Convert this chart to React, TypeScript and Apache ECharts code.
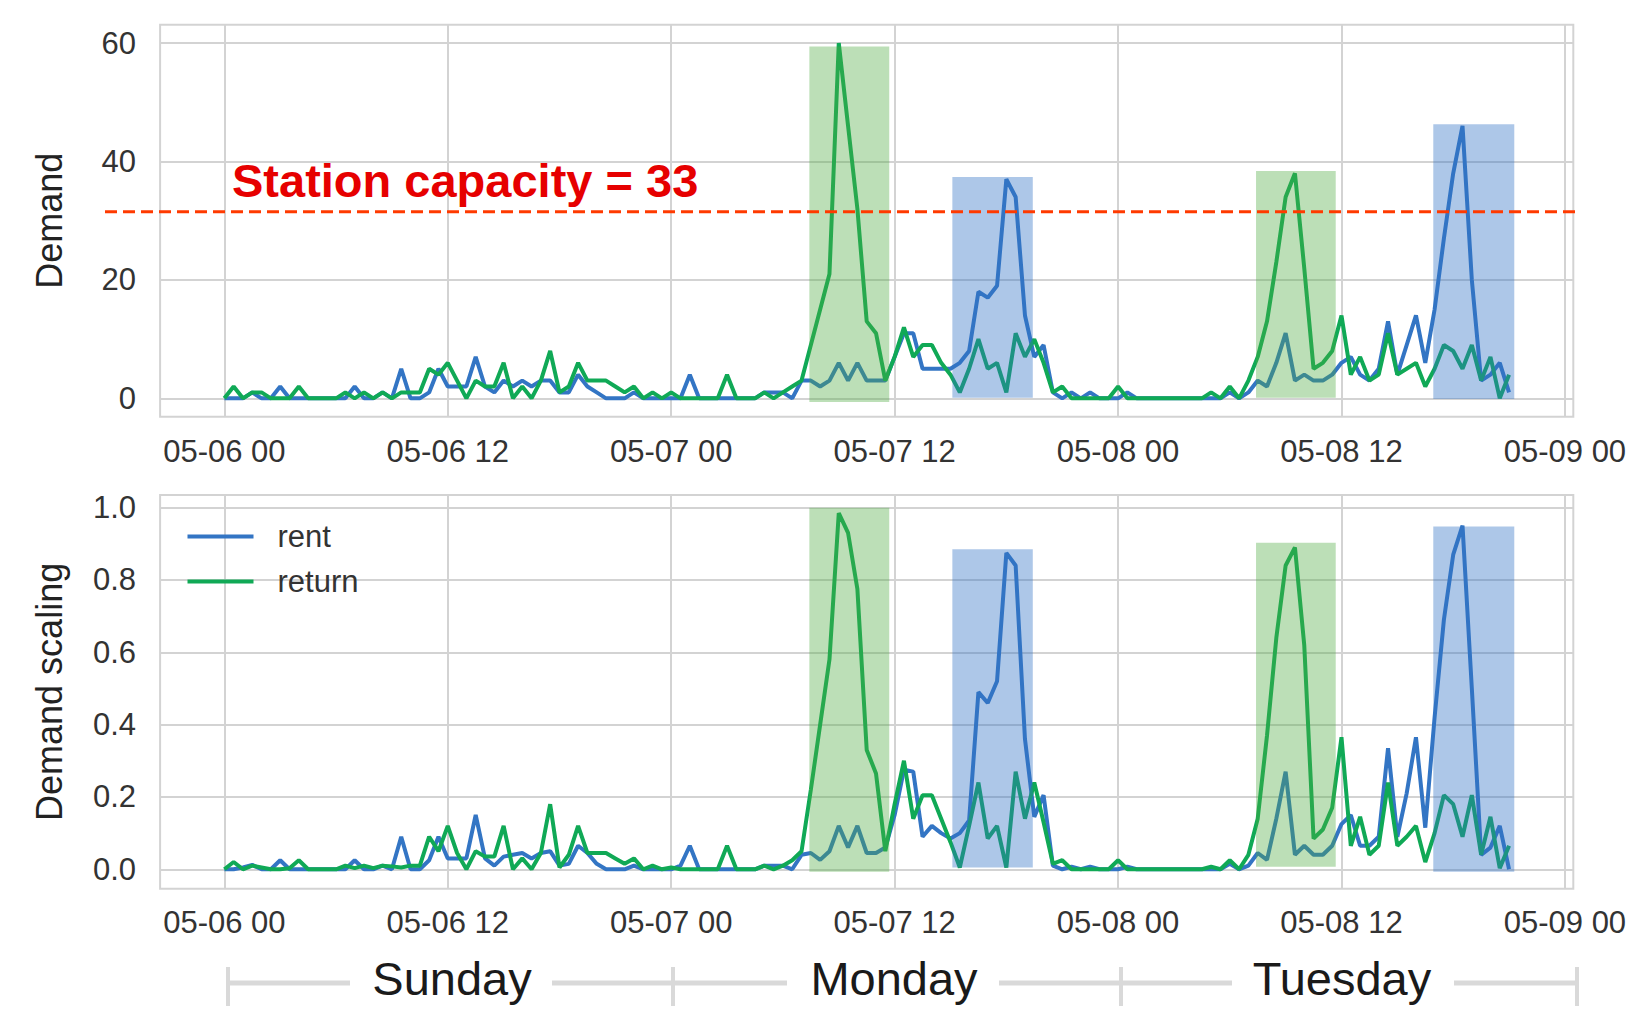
import React, { useEffect, useRef } from 'react';
import * as echarts from 'echarts';

// ---------- data (half-hourly, starting 05-06 00:00) ----------
const START_HOUR = 0;
const STEP_HOURS = 0.5;

const rentDemand = [
  0, 0, 0, 1, 0, 0, 2, 0, 0, 0,
  0, 0, 0, 0, 2, 0, 0, 1, 0, 5,
  0, 0, 1, 5, 2, 2, 2, 7, 2, 1,
  3, 2, 3, 2, 3, 3, 1, 1, 4, 2,
  1, 0, 0, 0, 1, 0, 0, 0, 0, 0,
  4, 0, 0, 0, 0, 0, 0, 0, 1, 1,
  1, 0, 3, 3, 2, 3, 6, 3, 6, 3,
  3, 3, 7, 11, 11, 5, 5, 5, 5, 6,
  8, 18, 17, 19, 37, 34, 14, 7, 9, 1,
  0, 1, 0, 1, 0, 0, 0, 1, 0, 0,
  0, 0, 0, 0, 0, 0, 0, 0, 1, 0,
  1, 3, 2, 6, 11, 3, 4, 3, 3, 4,
  6, 7, 4, 3, 5, 13, 4, 9, 14, 6,
  15, 27, 38, 46, 20, 3, 4, 6, 1,
];

const returnDemand = [
  0, 2, 0, 1, 1, 0, 0, 0, 2, 0,
  0, 0, 0, 1, 0, 1, 0, 1, 0, 1,
  1, 1, 5, 4, 6, 3, 0, 3, 2, 2,
  6, 0, 2, 0, 3, 8, 1, 2, 6, 3,
  3, 3, 2, 1, 2, 0, 1, 0, 1, 0,
  0, 0, 0, 0, 4, 0, 0, 0, 1, 0,
  1, 2, 3, 9, 15, 21, 60, 46, 32, 13,
  11, 3, 7, 12, 7, 9, 9, 6, 4, 1,
  5, 10, 5, 6, 1, 11, 7, 10, 6, 1,
  2, 0, 0, 0, 0, 0, 2, 0, 0, 0,
  0, 0, 0, 0, 0, 0, 1, 0, 2, 0,
  3, 7, 13, 23, 34, 38, 22, 5, 6, 8,
  14, 4, 7, 3, 4, 11, 4, 5, 6, 2,
  5, 9, 8, 5, 9, 3, 7, 0, 4,
];

const rentScaled = [
  0, 0, 0.005, 0.012, 0, 0, 0.025, 0, 0, 0,
  0, 0, 0, 0, 0.025, 0, 0, 0.01, 0, 0.09,
  0, 0, 0.025, 0.09, 0.03, 0.03, 0.03, 0.15, 0.03, 0.01,
  0.035, 0.04, 0.045, 0.03, 0.045, 0.05, 0.01, 0.015, 0.065, 0.045,
  0.015, 0, 0, 0, 0.01, 0, 0, 0, 0, 0.01,
  0.065, 0, 0, 0, 0, 0, 0, 0, 0.01, 0.01,
  0.01, 0, 0.04, 0.045, 0.026, 0.05, 0.12, 0.06, 0.12, 0.045,
  0.045, 0.06, 0.15, 0.275, 0.27, 0.09, 0.12, 0.1, 0.085, 0.1,
  0.135, 0.49, 0.46, 0.52, 0.875, 0.84, 0.36, 0.145, 0.205, 0.01,
  0, 0.007, 0, 0.007, 0, 0, 0, 0.007, 0, 0,
  0, 0, 0, 0, 0, 0, 0, 0, 0.015, 0,
  0.01, 0.045, 0.026, 0.14, 0.27, 0.04, 0.065, 0.04, 0.04, 0.065,
  0.125, 0.15, 0.065, 0.065, 0.09, 0.335, 0.09, 0.21, 0.365, 0.115,
  0.42, 0.69, 0.87, 0.95, 0.5, 0.04, 0.06, 0.12, 0,
];

const returnScaled = [
  0, 0.02, 0, 0.01, 0.005, 0, 0, 0.003, 0.025, 0,
  0, 0, 0, 0.01, 0.003, 0.01, 0.003, 0.01, 0.008, 0.005,
  0.01, 0.01, 0.09, 0.05, 0.12, 0.045, 0, 0.05, 0.035, 0.035,
  0.12, 0, 0.03, 0, 0.045, 0.18, 0.005, 0.04, 0.12, 0.045,
  0.045, 0.045, 0.03, 0.015, 0.03, 0, 0.01, 0, 0.005, 0,
  0, 0, 0, 0, 0.065, 0, 0, 0, 0.01, 0,
  0.01, 0.025, 0.05, 0.22, 0.4, 0.58, 0.985, 0.93, 0.775, 0.33,
  0.265, 0.05, 0.18, 0.3, 0.14, 0.205, 0.205, 0.14, 0.075, 0.005,
  0.12, 0.24, 0.085, 0.12, 0.005, 0.27, 0.14, 0.24, 0.13, 0.015,
  0.025, 0, 0, 0, 0, 0, 0.025, 0, 0, 0,
  0, 0, 0, 0, 0, 0, 0.007, 0, 0.025, 0,
  0.04, 0.14, 0.37, 0.64, 0.84, 0.89, 0.62, 0.085, 0.11, 0.17,
  0.365, 0.065, 0.145, 0.04, 0.065, 0.24, 0.065, 0.09, 0.12, 0.02,
  0.1, 0.205, 0.18, 0.09, 0.205, 0.04, 0.145, 0.003, 0.065,
];

// highlighted peak windows (hours from 05-06 00:00)
const highlightStart = [31.42, 39.1, 55.41, 64.93];
const highlightEnd = [35.71, 43.42, 59.69, 69.28];
const highlightKind = [1, 0, 1, 0]; // 0 = rent, 1 = return
const demandHighlightLow = [-0.6, 0.1, 0.1, -0.1];
const demandHighlightHigh = [59.4, 37.4, 38.4, 46.3];
const scaledHighlightLow = [-0.007, 0.005, 0.007, -0.007];
const scaledHighlightHigh = [1.0, 0.885, 0.903, 0.948];

const xTicks = [0, 12, 24, 36, 48, 60, 72];
const demandTicks = [0, 20, 40, 60];
const scaledTicks = [0, 0.2, 0.4, 0.6, 0.8, 1.0];
const seriesNames = ['rent', 'return'];
const dayNames = ['Sunday', 'Monday', 'Tuesday'];
const capacityText = 'Station capacity = 33';
const capacityLineValue = 31.5;

// ---------- styles ----------
const FONT = "'Liberation Sans', Arial, sans-serif";
const RENT_COLOR = '#3375c4';
const RETURN_COLOR = '#10a956';
const FILLS = ['rgba(50,115,197,0.40)', 'rgba(80,170,65,0.38)'];
const GRID_COLOR = '#d3d3d3';
const TICK_SIZE = 31;

const toPoints = (vals: number[]) => vals.map((v, i) => [START_HOUR + i * STEP_HOURS, v]);

const xLabel = (h: number) => {
  const day = 6 + Math.floor(h / 24);
  const hh = h % 24;
  return `05-${String(day).padStart(2, '0')} ${String(hh).padStart(2, '0')}`;
};

const makeHighlights = (low: number[], high: number[]) =>
  highlightStart.map((s, i) => [s, highlightEnd[i], low[i], high[i], highlightKind[i]]);

const rectRender = (params: any, api: any) => {
  const p0 = api.coord([api.value(0), api.value(3)]);
  const p1 = api.coord([api.value(1), api.value(2)]);
  return {
    type: 'rect',
    shape: { x: p0[0], y: p0[1], width: p1[0] - p0[0], height: p1[1] - p0[1] },
    style: { fill: FILLS[api.value(4)] },
  };
};

export default function App() {
  const ref = useRef<HTMLDivElement>(null);

  useEffect(() => {
    if (!ref.current) return;
    const chart = echarts.init(ref.current, null, { renderer: 'svg' });

    const xAxisBase = (gi: number, margin: number) => ({
      type: 'value',
      gridIndex: gi,
      min: -3.45,
      max: 72.45,
      axisLine: { show: false },
      axisTick: { show: false, customValues: xTicks },
      axisLabel: {
        customValues: xTicks,
        formatter: (v: number) => xLabel(v),
        color: '#333',
        fontSize: TICK_SIZE,
        fontFamily: FONT,
        margin,
      },
      splitLine: { show: true, lineStyle: { color: GRID_COLOR, width: 2 } },
    });

    const lineSeries = (name: string, vals: number[], color: string, gi: number) => ({
      type: 'line',
      name,
      xAxisIndex: gi,
      yAxisIndex: gi,
      data: toPoints(vals),
      showSymbol: false,
      symbol: 'none',
      lineStyle: { color, width: 4 },
      itemStyle: { color },
      z: 2,
    });

    const option: any = {
      animation: false,
      backgroundColor: '#ffffff',
      grid: [
        { left: 160.1, width: 1413.2, top: 24.7, height: 392, show: true, borderColor: GRID_COLOR, borderWidth: 2, backgroundColor: 'transparent' },
        { left: 160.1, width: 1413.2, top: 495, height: 393.8, show: true, borderColor: GRID_COLOR, borderWidth: 2, backgroundColor: 'transparent' },
      ],
      xAxis: [xAxisBase(0, 19), xAxisBase(1, 18)],
      yAxis: [
        {
          type: 'value', gridIndex: 0, min: -3.1, max: 63.1,
          name: 'Demand', nameLocation: 'middle', nameGap: 93,
          nameTextStyle: { fontSize: 36, color: '#222', fontFamily: FONT },
          axisLine: { show: false },
          axisTick: { show: false, customValues: demandTicks },
          axisLabel: { customValues: demandTicks, color: '#333', fontSize: TICK_SIZE, fontFamily: FONT, margin: 24 },
          splitLine: { show: true, lineStyle: { color: GRID_COLOR, width: 2 } },
        },
        {
          type: 'value', gridIndex: 1, min: -0.054, max: 1.035,
          name: 'Demand scaling', nameLocation: 'middle', nameGap: 93,
          nameTextStyle: { fontSize: 36, color: '#222', fontFamily: FONT },
          axisLine: { show: false },
          axisTick: { show: false, customValues: scaledTicks },
          axisLabel: {
            customValues: scaledTicks, color: '#333', fontSize: TICK_SIZE, fontFamily: FONT, margin: 24,
            formatter: (v: number) => v.toFixed(1),
          },
          splitLine: { show: true, lineStyle: { color: GRID_COLOR, width: 2 } },
        },
      ],
      legend: {
        data: seriesNames,
        orient: 'vertical',
        left: 182.5,
        top: 516,
        itemWidth: 66,
        itemHeight: 4,
        itemGap: 14,
        icon: 'rect',
        textStyle: { fontSize: TICK_SIZE, color: '#333', fontFamily: FONT, padding: [0, 0, 0, 19] },
      },
      series: [
        lineSeries(seriesNames[0], rentDemand, RENT_COLOR, 0),
        lineSeries(seriesNames[1], returnDemand, RETURN_COLOR, 0),
        lineSeries(seriesNames[0], rentScaled, RENT_COLOR, 1),
        lineSeries(seriesNames[1], returnScaled, RETURN_COLOR, 1),
        {
          type: 'custom', xAxisIndex: 0, yAxisIndex: 0, z: 5, silent: true,
          data: makeHighlights(demandHighlightLow, demandHighlightHigh),
          encode: { x: [0, 1], y: [2, 3] },
          renderItem: rectRender,
        },
        {
          type: 'custom', xAxisIndex: 1, yAxisIndex: 1, z: 5, silent: true,
          data: makeHighlights(scaledHighlightLow, scaledHighlightHigh),
          encode: { x: [0, 1], y: [2, 3] },
          renderItem: rectRender,
        },
      ],
    };

    chart.setOption(option);

    const capY = chart.convertToPixel({ xAxisIndex: 0, yAxisIndex: 0 } as any, [0, capacityLineValue]) as number[];
    const lineY = capY[1];

    const bracketY = 983;
    const bracketColor = '#d9d9d9';
    const hSegs = [[228, 350], [552, 787], [999, 1232], [1454, 1577]];
    const vTicks = [228, 673, 1121, 1577];
    const dayCenters = [452, 894, 1342];

    const graphics: any[] = [
      {
        type: 'line', z: 20,
        shape: { x1: 105, y1: lineY, x2: 1577, y2: lineY },
        style: { stroke: '#ff3a00', lineWidth: 3, lineDash: [12, 6] },
      },
      {
        type: 'text', z: 20, x: 232, y: 180,
        style: {
          text: capacityText, fill: '#e60000', fontSize: 47, fontWeight: 'bold', fontFamily: FONT,
          align: 'left', verticalAlign: 'middle',
        },
      },
    ];
    hSegs.forEach(([a, b]) => graphics.push({
      type: 'line', shape: { x1: a, y1: bracketY, x2: b, y2: bracketY },
      style: { stroke: bracketColor, lineWidth: 5 },
    }));
    vTicks.forEach((x) => graphics.push({
      type: 'line', shape: { x1: x, y1: 967, x2: x, y2: 1006 },
      style: { stroke: bracketColor, lineWidth: 4 },
    }));
    dayNames.forEach((d, i) => graphics.push({
      type: 'text', x: dayCenters[i], y: 978,
      style: { text: d, fill: '#1a1a1a', fontSize: 47, fontFamily: FONT, align: 'center', verticalAlign: 'middle' },
    }));

    chart.setOption({ graphic: graphics });

    return () => chart.dispose();
  }, []);

  return (
    <div
      ref={ref}
      style={{ position: 'fixed', left: 0, top: 0, width: 1640, height: 1022, background: '#fff' }}
    />
  );
}
